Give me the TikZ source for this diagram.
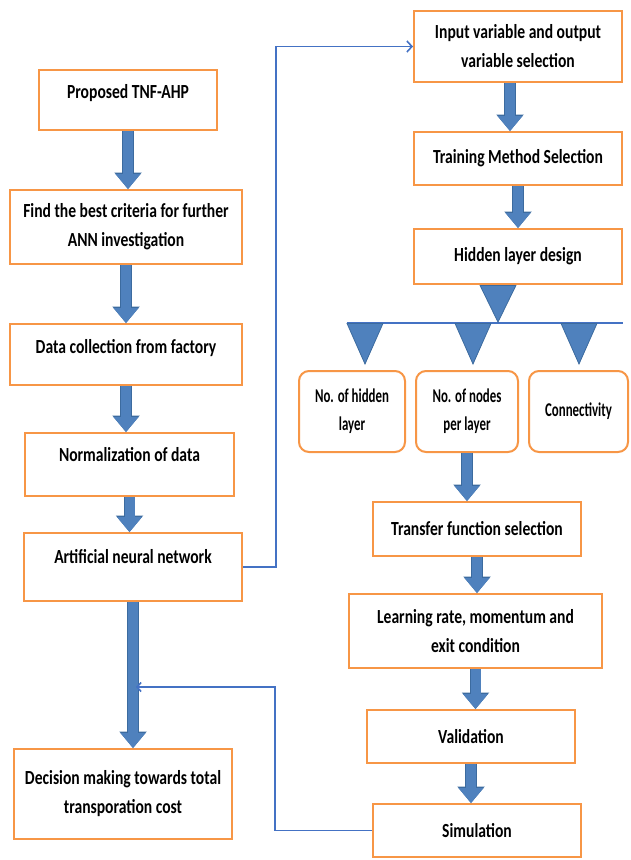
\documentclass[tikz,border=0pt]{standalone}
\usepackage{fontspec}
\setmainfont{Carlito}[FakeStretch=0.78]
\newfontfamily\narrowfont{Carlito}[FakeStretch=0.66]
\usetikzlibrary{arrows.meta}
\definecolor{boxorange}{HTML}{F79646}
\definecolor{arrowblue}{HTML}{4F81BD}
\definecolor{arrowedge}{HTML}{3C6B9F}
\definecolor{linkblue}{HTML}{4472C4}
\begin{document}
\begin{tikzpicture}[x=1pt, y=-1pt,
    box/.style={draw=boxorange, line width=2pt, fill=white, align=center, inner sep=2pt,
        font=\fontsize{20}{29}\selectfont\bfseries},
    rbox/.style={box, rounded corners=10pt, font=\narrowfont\fontsize{19.5}{28}\selectfont\bfseries},
    lifted/.style={text height=13pt, text depth=#1},
    fat/.style={line width=10pt, arrowblue, -{Triangle[width=25pt, length=15pt, line width=0pt]},
        preaction={draw=arrowedge, line width=11.5pt, -{Triangle[width=27.5pt, length=16.5pt, line width=0pt]}}},
    tri/.style={arrowedge, line width=0.8pt, -{Triangle[width=37pt, length=#1, fill=arrowblue]}},
    link/.style={linkblue, line width=1.6pt}]
    \useasboundingbox (0,0) rectangle (631,860);

    \node[box, lifted=16pt, minimum width=178pt, minimum height=60pt] (tnf) at (128,100) {Proposed TNF-AHP};
    \node[box, minimum width=232pt, minimum height=74pt] (crit) at (126,227) {Find the best criteria for further\\ANN investigation};
    \node[box, lifted=15pt, minimum width=232pt, minimum height=61pt] (data) at (126,354.5) {Data collection from factory};
    \node[box, lifted=19pt, minimum width=209pt, minimum height=63pt] (norm) at (129.5,464.5) {Normalization of data};
    \node[box, lifted=20pt, minimum width=218pt, minimum height=68pt] (ann) at (133,567) {Artificial neural network};
    \node[box, minimum width=218pt, minimum height=90pt] (dec) at (123,794) {Decision making towards total\\transporation cost};

    \node[box, minimum width=208pt, minimum height=71pt] (inp) at (518,46.5) {Input variable and output\\variable selection};
    \node[box, minimum width=208pt, minimum height=53pt] (train) at (518,158.5) {Training Method Selection};
    \node[box, minimum width=208pt, minimum height=55pt] (hid) at (518,256.5) {Hidden layer design};
    \node[rbox, minimum width=106pt, minimum height=81pt] (r1) at (352,411.5) {No. of hidden\\layer};
    \node[rbox, minimum width=102pt, minimum height=81pt] (r2) at (467,411.5) {No. of nodes\\per layer};
    \node[rbox, minimum width=99pt, minimum height=81pt] (r3) at (578.5,411.5) {Connectivity};
    \node[box, minimum width=208pt, minimum height=54pt] (trans) at (477,529) {Transfer function selection};
    \node[box, minimum width=253pt, minimum height=74pt] (learn) at (475.5,631) {Learning rate, momentum and\\exit condition};
    \node[box, minimum width=208pt, minimum height=53pt] (valid) at (471,736.5) {Validation};
    \node[box, minimum width=208pt, minimum height=53pt] (sim) at (477,830.5) {Simulation};

    \coordinate (bus0) at (347,323);
    \coordinate (busend) at (623,323);
    \coordinate (busc) at (498,323);
    \coordinate (b1) at (365,323);
    \coordinate (b2) at (473,323);
    \coordinate (b3) at (579,323);
    \coordinate (fb) at (136,687);

    \draw[fat] (tnf.south) -- (tnf.south |- crit.north);
    \draw[fat] (crit.south) -- (crit.south |- data.north);
    \draw[fat] (data.south) -- (data.south |- norm.north);
    \draw[fat] (norm.south) -- (norm.south |- ann.north);
    \draw[fat] (ann.south) -- (ann.south |- dec.north);
    \draw[fat] ([xshift=-8pt]inp.south) -- ([xshift=-8pt]inp.south |- train.north);
    \draw[fat] (train.south) -- (train.south |- hid.north);
    \draw[fat] (r2.south) -- (r2.south |- trans.north);
    \draw[fat] (trans.south) -- (trans.south |- learn.north);
    \draw[fat] (learn.south) -- (learn.south |- valid.north);
    \draw[fat] (valid.south) -- (valid.south |- sim.north);

    \draw[link] (bus0) -- (busend);
    \draw[tri=38pt] (hid.south -| busc) -- (busc);
    \draw[tri=42pt, shorten >=5pt] (b1) -- (r1.north -| b1);
    \draw[tri=42pt, shorten >=5pt] (b2) -- (r2.north -| b2);
    \draw[tri=42pt, shorten >=5pt] (b3) -- (r3.north -| b3);

    \draw[link, -{Straight Barb[length=5pt, width=11pt]}] (ann.east) -- ++(33,0) |- (inp.west);
    \draw[link, -{Straight Barb[length=4pt, width=9pt]}] (sim.west) -- ++(-97,0) |- (fb);
\end{tikzpicture}
\end{document}
